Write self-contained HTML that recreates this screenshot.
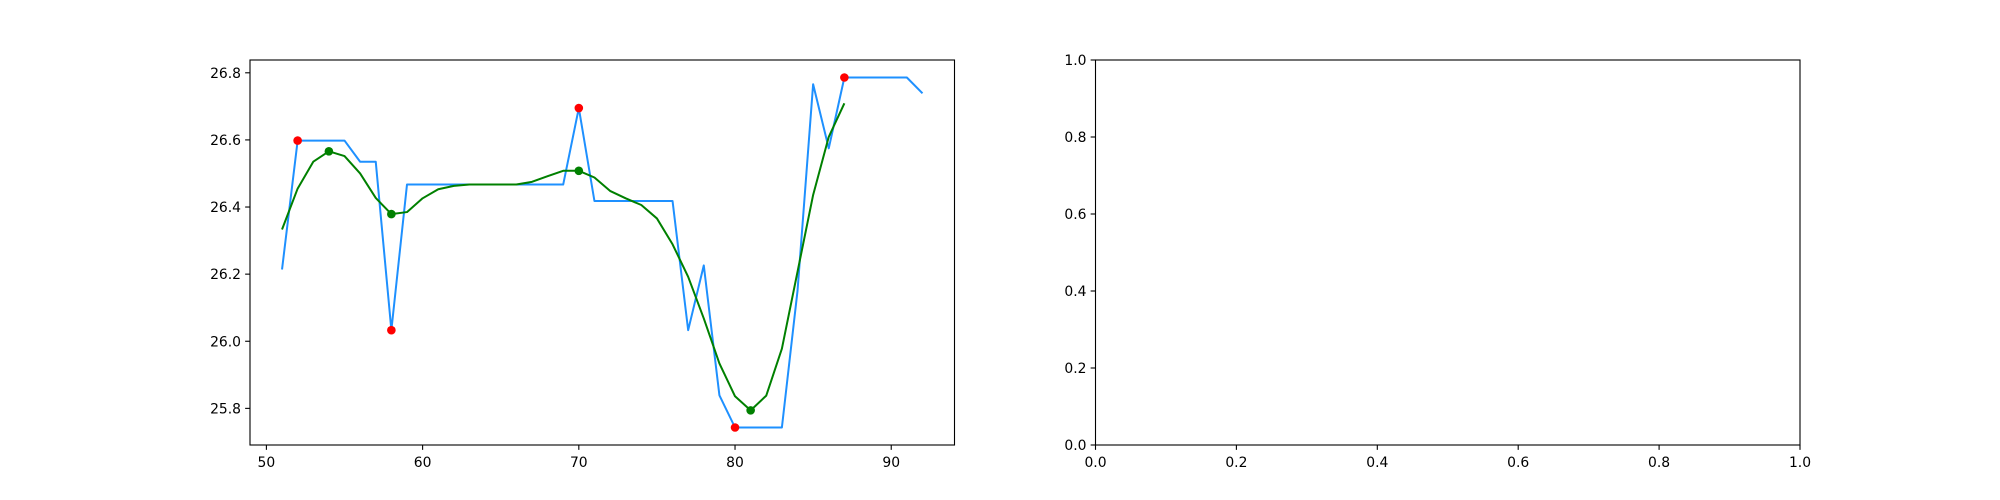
<!DOCTYPE html>
<html><head><meta charset="utf-8"><style>
html,body{margin:0;padding:0;background:#fff;}
svg{display:block;font-family:"DejaVu Sans","Liberation Sans",sans-serif;}
</style></head><body>
<svg id="fig" width="2000" height="500" viewBox="0 0 2000 500" xmlns="http://www.w3.org/2000/svg">
<rect width="2000" height="500" fill="#fff"/>
<g id="ax1"></g>
<g id="ax2"></g>
</svg>
<script>
const xValues = [51,52,53,54,55,56,57,58,59,60,61,62,63,64,65,66,67,68,69,70,71,72,73,74,75,76,77,78,79,80,81,82,83,84,85,86,87,88,89,90,91,92];
const rawSeries = [26.214,26.598,26.598,26.598,26.598,26.535,26.535,26.033,26.467,26.467,26.467,26.467,26.467,26.467,26.467,26.467,26.467,26.467,26.467,26.695,26.418,26.418,26.418,26.418,26.418,26.418,26.033,26.226,25.839,25.743,25.743,25.743,25.743,26.15,26.766,26.575,26.786,26.786,26.786,26.786,26.786,26.739];
const smoothX = [51,52,53,54,55,56,57,58,59,60,61,62,63,64,65,66,67,68,69,70,71,72,73,74,75,76,77,78,79,80,81,82,83,84,85,86,87];
const smoothSeries = [26.333,26.455,26.535,26.566,26.552,26.500,26.427,26.379,26.385,26.426,26.453,26.463,26.467,26.467,26.467,26.467,26.475,26.492,26.508,26.508,26.488,26.448,26.426,26.406,26.366,26.289,26.192,26.068,25.934,25.836,25.794,25.838,25.978,26.207,26.436,26.609,26.709];
const extremaX = [52,58,70,80,87];
const extremaY = [26.598,26.033,26.695,25.743,26.786];
const smoothExtX = [54,58,70,81];
const smoothExtY = [26.566,26.379,26.508,25.794];
const xTicks1 = [50,60,70,80,90];
const yTicks1 = [25.8,26.0,26.2,26.4,26.6,26.8];
const ticks2 = [0,0.2,0.4,0.6,0.8,1.0];

const NS="http://www.w3.org/2000/svg";
function mk(parent,tag,attrs){const e=document.createElementNS(NS,tag);for(const k in attrs)e.setAttribute(k,attrs[k]);parent.appendChild(e);return e;}

function axes(g,L,R,T,B,xmin,xmax,ymin,ymax,xt,yt,xfmt,yfmt){
  const sx=v=>L+(v-xmin)/(xmax-xmin)*(R-L);
  const sy=v=>B-(v-ymin)/(ymax-ymin)*(B-T);
  for(const t of xt){
    const x=sx(t);
    const tk=mk(g,'line',{x1:x,x2:x,y1:B,y2:B+4.86,stroke:'#000','stroke-width':1.1});
    
    
    const lb=mk(g,'text',{x:x,y:B+22,'text-anchor':'middle','font-size':13.9,fill:'#000'});
    lb.textContent=xfmt(t);
    
    
  }
  for(const t of yt){
    const y=sy(t);
    const tk=mk(g,'line',{x1:L-4.86,x2:L,y1:y,y2:y,stroke:'#000','stroke-width':1.1});
    
    
    const lb=mk(g,'text',{x:L-9,y:y+5,'text-anchor':'end','font-size':13.9,fill:'#000'});
    lb.textContent=yfmt(t);
    
    
  }
  return {sx,sy};
}
function frame(g,L,R,T,B){
  const f=mk(g,'rect',{x:L,y:T,width:R-L,height:B-T,fill:'none',stroke:'#000','stroke-width':1.1});
  
  
}

// Left axes
const g1=document.getElementById('ax1');
const L1=250,R1=954.5,T=60,B=445;
const allY=rawSeries.concat(smoothSeries);
const dmin=Math.min(...allY),dmax=Math.max(...allY);
const xmn=Math.min(...xValues),xmx=Math.max(...xValues);
const xm=(xmx-xmn)*0.05,ym=(dmax-dmin)*0.05;
const a1=axes(g1,L1,R1,T,B,xmn-xm,xmx+xm,dmin-ym,dmax+ym,xTicks1,yTicks1,v=>String(v),v=>v.toFixed(1));

const raw=mk(g1,'polyline',{points:xValues.map((x,i)=>a1.sx(x)+','+a1.sy(rawSeries[i])).join(' '),fill:'none',stroke:'#1E90FF','stroke-width':2,'stroke-linejoin':'round'});


extremaX.forEach((x,i)=>{
  const c=mk(g1,'circle',{cx:a1.sx(x),cy:a1.sy(extremaY[i]),r:4.3,fill:'#ff0000'});
  
  
});
const sm=mk(g1,'polyline',{points:smoothX.map((x,i)=>a1.sx(x)+','+a1.sy(smoothSeries[i])).join(' '),fill:'none',stroke:'#008000','stroke-width':2,'stroke-linejoin':'round'});


smoothExtX.forEach((x,i)=>{
  const c=mk(g1,'circle',{cx:a1.sx(x),cy:a1.sy(smoothExtY[i]),r:4.3,fill:'#008000'});
  
  
});
frame(g1,L1,R1,T,B);

// Right axes
const g2=document.getElementById('ax2');
const L2=1095.5,R2=1800;
axes(g2,L2,R2,T,B,0,1,0,1,ticks2,ticks2,v=>v.toFixed(1),v=>v.toFixed(1));
frame(g2,L2,R2,T,B);
</script>
</body></html>
